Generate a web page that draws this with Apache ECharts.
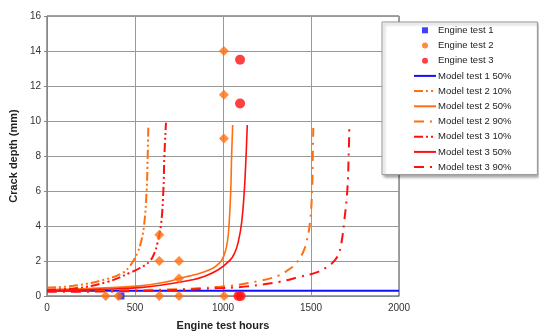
<!DOCTYPE html>
<html><head><meta charset="utf-8">
<script src="https://cdn.jsdelivr.net/npm/echarts@6/dist/echarts.min.js"></script>
<style>html,body{margin:0;padding:0;background:#fff}#c{width:539px;height:331px}</style>
</head><body><div id="c"></div>
<script>
// Data (hours, crack depth mm)
const engineTest1 = [[420, 0]];
const engineTest2 = [[333,0],[405,0],[638,0],[750,0],[1006,0],[638,2],[750,2],[638,3.5],[750,1],[1005,9],[1005,11.5],[1005,14]];
const engineTest3 = [[1088,0],[1100,0],[1097,11],[1097,13.5]];
const model1_50 = [[0,0.3],[2000,0.3]];
const model2_10 = [[0,0.48],[150,0.58],[340,0.97],[434,1.35],[470,1.7],[490,2],[515,2.5],[532,3],[551,4],[566,6],[572,8],[576,9.8]];
const model2_50 = [[0,0.35],[300,0.45],[528,0.58],[700,0.85],[750,1.0],[813,1.15],[869,1.3],[945,1.6],[975,1.85],[993,2.05],[1012,2.5],[1025,3.1],[1034,4],[1044,6],[1049,8],[1055,9.77]];
const model2_90 = [[0,0.28],[500,0.33],[983,0.53],[1200,0.85],[1324,1.2],[1371,1.5],[1405,1.75],[1428,2.05],[1455,2.5],[1475,3.1],[1494,4.2],[1506,6],[1510,8],[1513,9.6]];
const model3_10 = [[0,0.36],[150,0.43],[340,0.8],[472,1.33],[528,1.6],[585,2],[610,2.45],[627,3],[648,4.1],[661,6],[667,8],[676,9.9]];
const model3_50 = [[0,0.3],[300,0.38],[528,0.48],[700,0.7],[813,0.9],[888,1.1],[973,1.5],[1040,2.05],[1068,2.5],[1087,3.1],[1106,4.2],[1121,6],[1131,8],[1138,9.77]];
const model3_90 = [[0,0.24],[500,0.28],[983,0.45],[1135,0.55],[1324,0.82],[1437,1.1],[1532,1.35],[1590,1.65],[1636,2.05],[1660,2.5],[1674,3.1],[1688,4.2],[1706,6],[1714,8],[1718,9.77]];
const seriesNames = ['Engine test 1','Engine test 2','Engine test 3','Model test 1 50%','Model test 2 10%','Model test 2 50%','Model test 2 90%','Model test 3 10%','Model test 3 50%','Model test 3 90%'];

const ORANGE = '#ff6f0f', RED = '#ff1010', BLUE = '#1010ff';
const dashDot = [10,6,2,6];
const dashDotDot = [9,3,2,3,2,3];
function lineS(name, data, color, type, width){
  return {name, type:'line', data, symbol:'none', smooth:0.45,
    lineStyle:{color, width, type}, itemStyle:{color, opacity:0}, z:3};
}
const lineLegend = n => ({name:n, itemStyle:{opacity:0}});
const chart = echarts.init(document.getElementById('c'));
chart.setOption({
  animation:false,
  textStyle:{fontFamily:'Liberation Sans, Arial, sans-serif'},
  grid:{left:47, right:140, top:16, bottom:35, outerBoundsMode:'none', containLabel:false,
    show:true, borderColor:'#444', borderWidth:1, backgroundColor:'#fff'},
  xAxis:{type:'value', min:0, max:2000, interval:500,
    name:'Engine test hours', nameLocation:'middle', nameGap:24,
    nameTextStyle:{fontWeight:'bold', fontSize:11, color:'#222'},
    axisLine:{show:true, lineStyle:{color:'#888'}}, axisTick:{show:false},
    axisLabel:{fontSize:10, color:'#333', margin:7, formatter:v=>String(v)},
    splitLine:{show:true, lineStyle:{color:'#999', width:1}}},
  yAxis:{type:'value', min:0, max:16, interval:2,
    name:'Crack depth (mm)', nameLocation:'middle', nameGap:16,
    nameTextStyle:{fontWeight:'bold', fontSize:11, color:'#222'},
    axisLine:{show:true, lineStyle:{color:'#888'}}, axisTick:{show:true, length:3, lineStyle:{color:'#888'}},
    axisLabel:{fontSize:10, color:'#333', margin:6},
    splitLine:{show:true, lineStyle:{color:'#999', width:1}}},
  legend:{orient:'vertical', left:382, top:22, itemWidth:22, itemHeight:6, itemGap:3.2,
    padding:[2.3,26,1.5,31], backgroundColor:'#fff', borderColor:'#999', borderWidth:1,
    shadowColor:'rgba(0,0,0,0.35)', shadowBlur:3, shadowOffsetX:2, shadowOffsetY:2,
    textStyle:{fontSize:9.5, color:'#222', lineHeight:12, padding:[0,0,0,-3]},
    data:[
      {name:seriesNames[0], icon:'path://M0,0L10,0L10,10L0,10Z'},
      {name:seriesNames[1], icon:'circle'},
      {name:seriesNames[2], icon:'circle'},
      lineLegend(seriesNames[3]),lineLegend(seriesNames[4]),lineLegend(seriesNames[5]),lineLegend(seriesNames[6]),
      lineLegend(seriesNames[7]),lineLegend(seriesNames[8]),lineLegend(seriesNames[9])
    ]},
  series:[
    {name:seriesNames[0], type:'scatter', data:engineTest1, symbol:'rect', symbolSize:7, itemStyle:{color:BLUE}, z:5},
    {name:seriesNames[1], type:'scatter', data:engineTest2, symbol:'diamond', symbolSize:10, itemStyle:{color:ORANGE}, z:5},
    {name:seriesNames[2], type:'scatter', data:engineTest3, symbol:'circle', symbolSize:10, itemStyle:{color:RED}, z:5},
    lineS(seriesNames[3], model1_50, BLUE, 'solid', 1.8),
    lineS(seriesNames[4], model2_10, ORANGE, dashDotDot, 2),
    lineS(seriesNames[5], model2_50, ORANGE, 'solid', 1.6),
    lineS(seriesNames[6], model2_90, ORANGE, dashDot, 2),
    lineS(seriesNames[7], model3_10, RED, dashDotDot, 2),
    lineS(seriesNames[8], model3_50, RED, 'solid', 1.6),
    lineS(seriesNames[9], model3_90, RED, dashDot, 2)
  ]
});
</script></body></html>
